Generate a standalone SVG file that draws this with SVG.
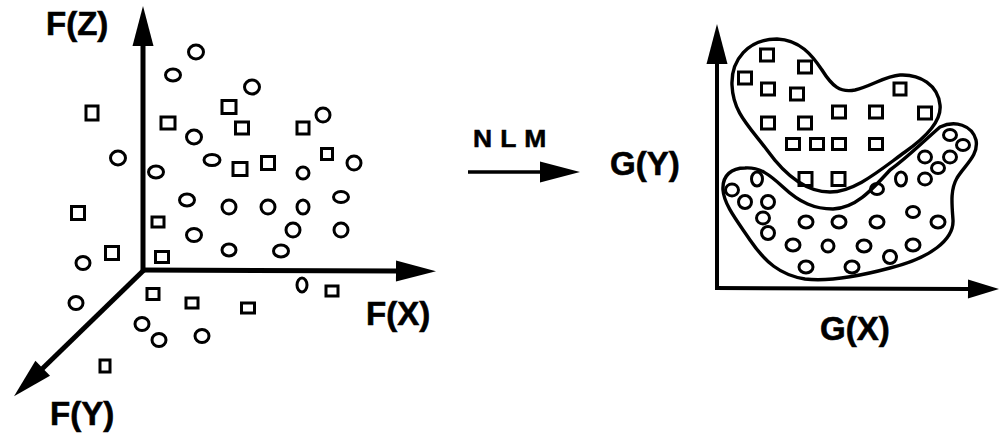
<svg xmlns="http://www.w3.org/2000/svg" width="1000" height="440" viewBox="0 0 1000 440">
<style>
.ax{stroke:#000;stroke-width:5;fill:none;stroke-linecap:butt}
.c{fill:none;stroke:#000;stroke-width:3}
.s{fill:none;stroke:#000;stroke-width:3}
.blob{fill:none;stroke:#000;stroke-width:3.4}
.lbl{font-family:"Liberation Sans",Arial,sans-serif;font-weight:bold;font-size:33px;fill:#000;stroke:#000;stroke-width:0.6}
.nlm{font-family:"Liberation Sans",Arial,sans-serif;font-weight:bold;font-size:23px;fill:#000;stroke:#000;stroke-width:0.5;letter-spacing:7px}
</style>
<defs>
<marker id="ah" markerUnits="userSpaceOnUse" markerWidth="42" markerHeight="22" refX="1" refY="10.5" orient="auto" overflow="visible">
<path d="M0,0 L40,10.5 L0,21 Z" fill="#000"/>
</marker>
<marker id="ahs" markerUnits="userSpaceOnUse" markerWidth="34" markerHeight="20" refX="1" refY="9.5" orient="auto" overflow="visible">
<path d="M0,0 L31,9.5 L0,19 Z" fill="#000"/>
</marker>
</defs>
<rect width="1000" height="440" fill="#fff"/>

<g id="connectors">
<line class="ax" x1="143" y1="272" x2="143" y2="45" marker-end="url(#ah)"/>
<line class="ax" x1="141" y1="270" x2="397" y2="271" marker-end="url(#ah)"/>
<line class="ax" x1="145" y1="269" x2="42" y2="369" marker-end="url(#ah)"/>
<line class="ax" style="stroke-width:3.5" x1="468" y1="172" x2="541" y2="172" marker-end="url(#ah)"/>
<line class="ax" style="stroke-width:4" x1="717" y1="290" x2="717" y2="63" marker-end="url(#ah)"/>
<line class="ax" style="stroke-width:4" x1="715" y1="288" x2="969" y2="289" marker-end="url(#ahs)"/>
</g>

<g id="labels">
<text class="lbl" x="46" y="35">F(Z)</text>
<text class="lbl" x="366" y="325">F(X)</text>
<text class="lbl" x="50" y="425">F(Y)</text>
<text class="nlm" transform="translate(473,147) scale(1.15,1)" x="0" y="0">NLM</text>
<text class="lbl" x="610" y="175">G(Y)</text>
<text class="lbl" x="820" y="340">G(X)</text>
</g>

<g id="left-circles">
<ellipse class="c" cx="196" cy="52" rx="7.5" ry="7"/>
<ellipse class="c" cx="173" cy="75" rx="7.5" ry="6"/>
<ellipse class="c" cx="252" cy="87" rx="7.5" ry="7"/>
<ellipse class="c" cx="323" cy="115" rx="7" ry="7"/>
<ellipse class="c" cx="194" cy="137" rx="7.5" ry="7"/>
<ellipse class="c" cx="118" cy="158" rx="7.5" ry="7"/>
<ellipse class="c" cx="212" cy="160" rx="8" ry="5.5"/>
<ellipse class="c" cx="156" cy="172" rx="7.5" ry="6"/>
<ellipse class="c" cx="303" cy="173" rx="6" ry="6"/>
<ellipse class="c" cx="354" cy="163" rx="7" ry="7"/>
<ellipse class="c" cx="187" cy="200" rx="7.5" ry="6"/>
<ellipse class="c" cx="341" cy="197" rx="7.5" ry="5.5"/>
<ellipse class="c" cx="229" cy="207" rx="7" ry="7"/>
<ellipse class="c" cx="268" cy="207" rx="7" ry="7"/>
<ellipse class="c" cx="303" cy="207" rx="6" ry="7"/>
<ellipse class="c" cx="194" cy="235" rx="7.5" ry="6.5"/>
<ellipse class="c" cx="293" cy="230" rx="7" ry="7"/>
<ellipse class="c" cx="341" cy="230" rx="7" ry="7"/>
<ellipse class="c" cx="229" cy="250" rx="7" ry="6"/>
<ellipse class="c" cx="281" cy="251" rx="7.5" ry="6"/>
<ellipse class="c" cx="83" cy="263" rx="7" ry="6.5"/>
<ellipse class="c" cx="76" cy="303" rx="7" ry="6.5"/>
<ellipse class="c" cx="302" cy="285" rx="5" ry="7"/>
<ellipse class="c" cx="142" cy="324" rx="7" ry="6.5"/>
<ellipse class="c" cx="159" cy="340" rx="7" ry="6.5"/>
<ellipse class="c" cx="202" cy="336" rx="7" ry="6.5"/>
</g>

<g id="left-squares">
<rect class="s" x="86" y="106" width="12" height="14"/>
<rect class="s" x="222" y="100.5" width="14" height="13"/>
<rect class="s" x="161" y="117" width="14" height="12"/>
<rect class="s" x="235.5" y="122" width="13" height="12"/>
<rect class="s" x="297" y="122" width="12" height="12"/>
<rect class="s" x="321.5" y="148.5" width="11" height="11"/>
<rect class="s" x="233" y="162.5" width="14" height="13"/>
<rect class="s" x="261.5" y="156.5" width="13" height="13"/>
<rect class="s" x="71.5" y="206.5" width="13" height="13"/>
<rect class="s" x="152" y="217" width="12" height="10"/>
<rect class="s" x="155.5" y="251.5" width="13" height="11"/>
<rect class="s" x="105.5" y="246.5" width="13" height="13"/>
<rect class="s" x="147" y="288.5" width="12" height="11"/>
<rect class="s" x="186" y="298" width="12" height="10"/>
<rect class="s" x="241.5" y="303" width="13" height="10"/>
<rect class="s" x="326" y="286" width="12" height="10"/>
<rect class="s" x="100" y="360" width="10" height="12"/>
</g>

<g id="square-cluster">
<path class="blob" d="M777,39 C800,40 812,55 822,70 C832,86 840,93 855,90 C872,86 885,76 900,75 C920,74 938,85 940,105 C942,122 925,138 905,152 C880,170 855,192 830,192 C805,192 785,175 767,150 C748,125 733,112 732,85 C731,60 748,39 777,39 Z"/>
<rect class="s" x="760.5" y="49" width="13" height="12"/>
<rect class="s" x="798.5" y="61" width="13" height="12"/>
<rect class="s" x="738.5" y="72" width="13" height="12"/>
<rect class="s" x="761.5" y="83" width="13" height="12"/>
<rect class="s" x="790.5" y="88" width="13" height="12"/>
<rect class="s" x="894" y="83" width="12" height="12"/>
<rect class="s" x="832.5" y="106" width="13" height="12"/>
<rect class="s" x="869.5" y="106" width="13" height="12"/>
<rect class="s" x="918.5" y="107" width="13" height="12"/>
<rect class="s" x="761.5" y="117" width="13" height="12"/>
<rect class="s" x="798.5" y="117" width="13" height="12"/>
<rect class="s" x="786.5" y="138.5" width="13" height="11"/>
<rect class="s" x="810.5" y="138.5" width="13" height="11"/>
<rect class="s" x="832.5" y="138.5" width="13" height="11"/>
<rect class="s" x="869.5" y="138.5" width="13" height="11"/>
<rect class="s" x="799" y="172.5" width="13" height="13"/>
<rect class="s" x="832" y="172.5" width="13" height="13"/>
</g>

<g id="circle-cluster">
<path class="blob" d="M723,190 C722,175 732,168 745,168 C760,167 770,175 783,187 C800,203 815,209 833,209 C855,208 870,192 890,170 C907,158 925,140 940,127 C955,120 972,125 976,140 C979,155 965,165 957,178 C950,190 952,205 953,220 C954,240 930,258 890,268 C860,276 830,282 805,279 C780,275 765,262 750,240 C738,222 724,205 723,190 Z"/>
<ellipse class="c" cx="950" cy="135" rx="6.5" ry="5.5"/>
<ellipse class="c" cx="963" cy="145" rx="6.5" ry="5.5"/>
<ellipse class="c" cx="925" cy="157" rx="6.5" ry="6"/>
<ellipse class="c" cx="950" cy="157" rx="6.5" ry="6"/>
<ellipse class="c" cx="938" cy="168" rx="6.5" ry="5.5"/>
<ellipse class="c" cx="925" cy="179" rx="6.5" ry="6"/>
<ellipse class="c" cx="901" cy="179" rx="5.5" ry="7"/>
<ellipse class="c" cx="877" cy="189" rx="6.5" ry="5.5"/>
<ellipse class="c" cx="913" cy="212" rx="6.5" ry="5.5"/>
<ellipse class="c" cx="757" cy="179" rx="5.5" ry="7"/>
<ellipse class="c" cx="732" cy="190" rx="6.5" ry="6"/>
<ellipse class="c" cx="745" cy="202" rx="6.5" ry="6.5"/>
<ellipse class="c" cx="768" cy="202" rx="6.5" ry="6.5"/>
<ellipse class="c" cx="763" cy="218" rx="6.5" ry="6"/>
<ellipse class="c" cx="768" cy="233" rx="6.5" ry="6.5"/>
<ellipse class="c" cx="806" cy="222" rx="7" ry="6"/>
<ellipse class="c" cx="839" cy="222" rx="7" ry="6"/>
<ellipse class="c" cx="877" cy="222" rx="7" ry="6"/>
<ellipse class="c" cx="938" cy="222" rx="7" ry="6"/>
<ellipse class="c" cx="793" cy="245" rx="7" ry="6"/>
<ellipse class="c" cx="828" cy="246" rx="6" ry="6"/>
<ellipse class="c" cx="864" cy="246" rx="7" ry="6"/>
<ellipse class="c" cx="913" cy="245" rx="7" ry="6"/>
<ellipse class="c" cx="890" cy="257" rx="6.5" ry="6.5"/>
<ellipse class="c" cx="806" cy="267" rx="7" ry="6"/>
<ellipse class="c" cx="852" cy="267" rx="7" ry="6"/>
</g>
</svg>
